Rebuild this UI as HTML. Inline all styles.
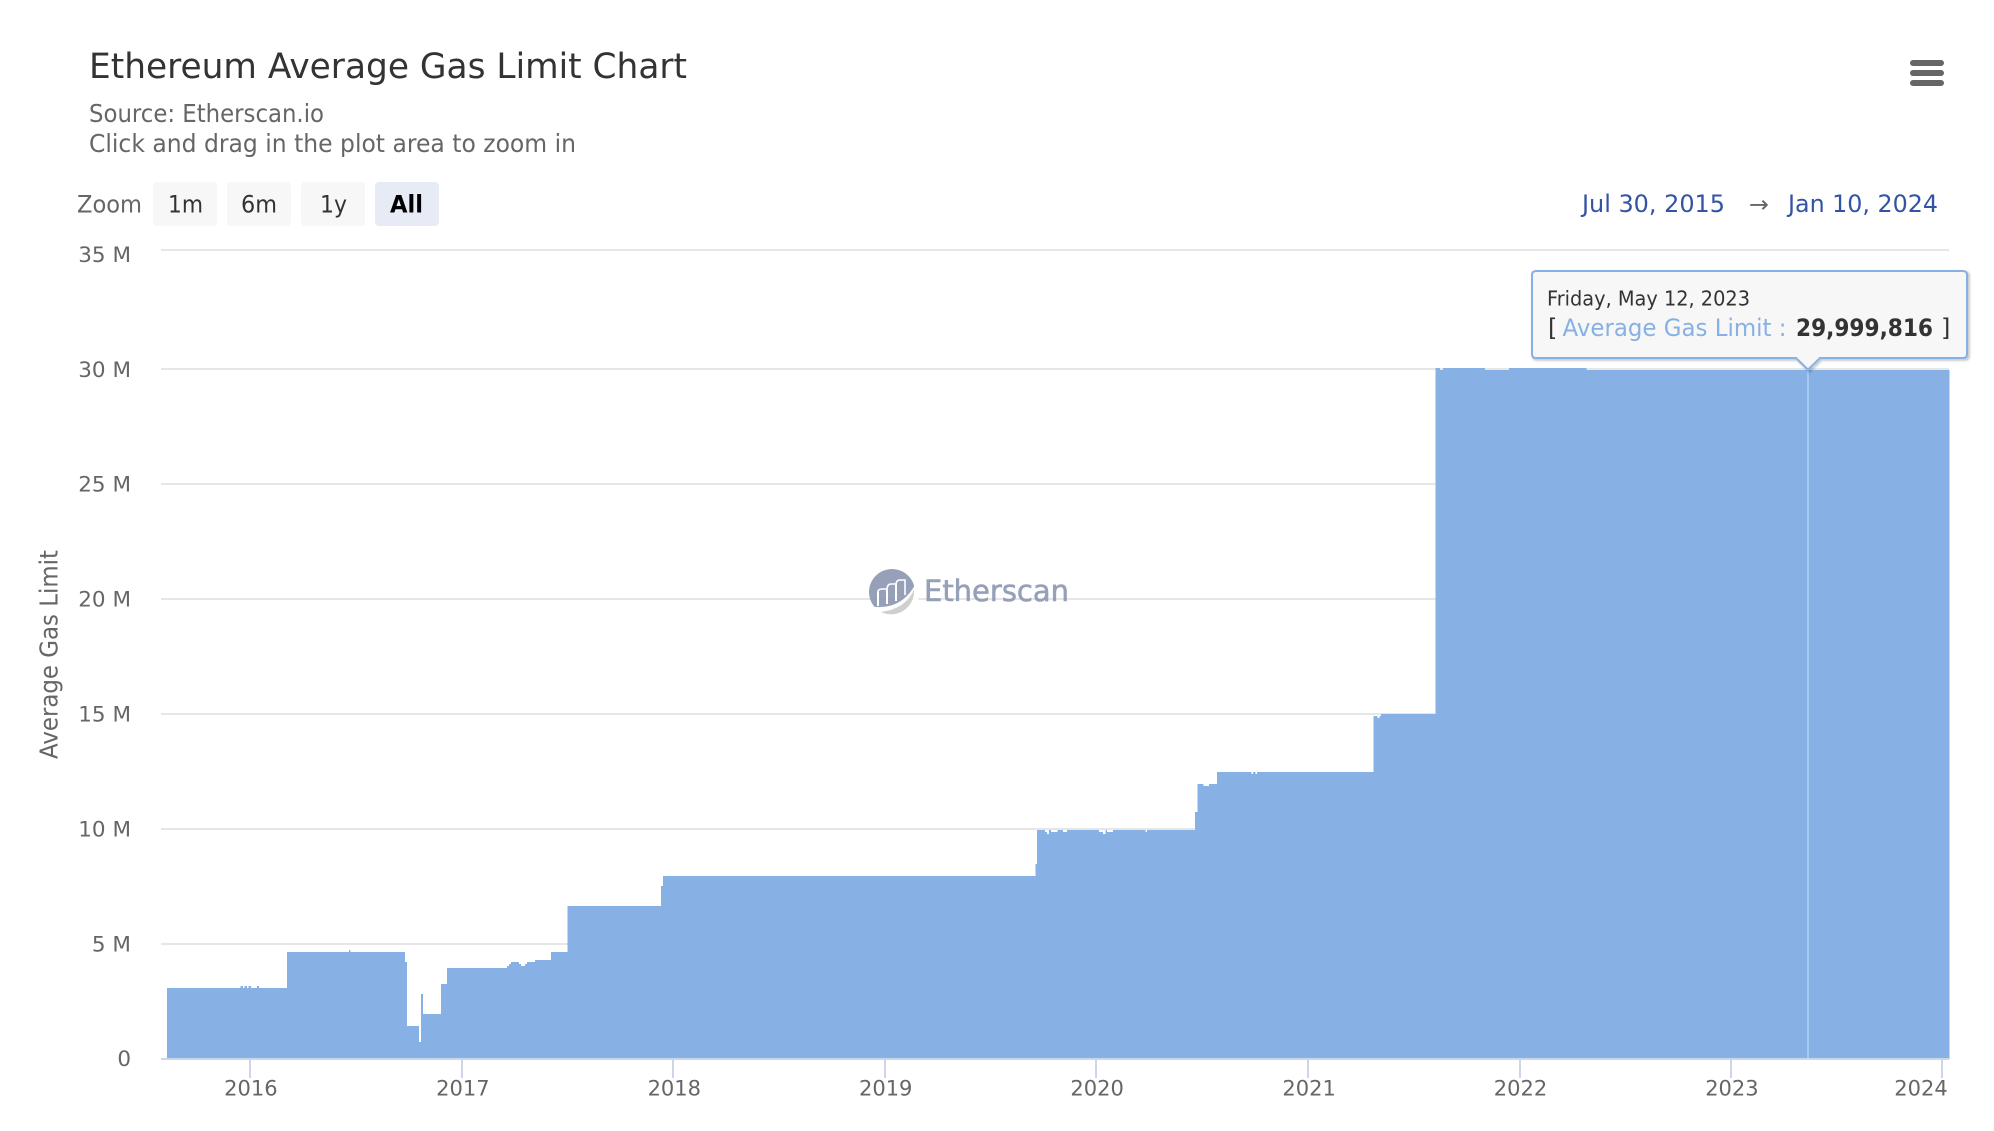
<!DOCTYPE html>
<html lang="en">
<head>
<meta charset="utf-8">
<title>Ethereum Average Gas Limit Chart</title>
<style>
html,body{margin:0;padding:0;background:#fff;width:1994px;height:1131px;overflow:hidden}
svg{display:block;font-family:"DejaVu Sans","Liberation Sans",sans-serif}
text{white-space:pre}
</style>
</head>
<body>
<svg id="chart" xmlns="http://www.w3.org/2000/svg" width="1994" height="1131" viewBox="0 0 1994 1131">
  <rect x="0" y="0" width="1994" height="1131" fill="#ffffff"/>
  <text x="89" y="78" font-size="35" fill="#333333" textLength="598" lengthAdjust="spacingAndGlyphs">Ethereum Average Gas Limit Chart</text>
  <text x="89" y="122" font-size="25" fill="#666666" textLength="235" lengthAdjust="spacingAndGlyphs">Source: Etherscan.io</text>
  <text x="89" y="152" font-size="25" fill="#666666" textLength="487" lengthAdjust="spacingAndGlyphs">Click and drag in the plot area to zoom in</text>

  <text x="77" y="212.5" font-size="24" fill="#666666" textLength="65" lengthAdjust="spacingAndGlyphs">Zoom</text>
  <g>
    <rect x="153" y="182" width="64" height="44" rx="4" fill="#f7f7f7"/>
    <text x="168" y="212.5" font-size="24" fill="#333333" textLength="35" lengthAdjust="spacingAndGlyphs">1m</text>
  </g>
  <g>
    <rect x="227" y="182" width="64" height="44" rx="4" fill="#f7f7f7"/>
    <text x="241" y="212.5" font-size="24" fill="#333333" textLength="36" lengthAdjust="spacingAndGlyphs">6m</text>
  </g>
  <g>
    <rect x="301" y="182" width="64" height="44" rx="4" fill="#f7f7f7"/>
    <text x="320" y="212.5" font-size="24" fill="#333333" textLength="27" lengthAdjust="spacingAndGlyphs">1y</text>
  </g>
  <g>
    <rect x="375" y="182" width="64" height="44" rx="4" fill="#e6ebf5"/>
    <text x="390" y="212.5" font-size="24" font-weight="bold" fill="#000000" textLength="33" lengthAdjust="spacingAndGlyphs">All</text>
  </g>

  <text x="1582" y="212" font-size="24" fill="#3353a4" textLength="143" lengthAdjust="spacingAndGlyphs">Jul 30, 2015</text>
  <text x="1749" y="212" font-size="23" fill="#666666" textLength="20" lengthAdjust="spacingAndGlyphs">→</text>
  <text x="1788" y="212" font-size="24" fill="#3353a4" textLength="150" lengthAdjust="spacingAndGlyphs">Jan 10, 2024</text>

  <g fill="#666666">
    <rect x="1910" y="60" width="34" height="6" rx="3"/>
    <rect x="1910" y="70" width="34" height="6" rx="3"/>
    <rect x="1910" y="80" width="34" height="6" rx="3"/>
  </g>

  <g id="grid"></g>

  <g opacity="0.92">
    <circle cx="892" cy="592" r="23" fill="#8e98b4"/>
    <path d="M 868 606 Q 900 612 915 585 L 925 625 L 865 625 Z" fill="#ffffff"/>
    <path d="M 881 612 Q 905 609 914 590 A 23 23 0 0 1 881 612 Z" fill="#cccccc"/>
    <path d="M 878 606 V 592 M 887 604 V 590 M 896 601 V 585" fill="none" stroke="#ffffff" stroke-width="2"/>
    <path d="M 878 592 Q 878 589 882 589 H 887 M 887 590 Q 887 584 891 584 H 896 M 896 585 Q 896 580 900 580 H 905 V 595" fill="none" stroke="#ffffff" stroke-width="1.6"/>
    <text x="924" y="601" font-size="29" fill="#8e98b4" stroke="#8e98b4" stroke-width="0.6" textLength="145" lengthAdjust="spacingAndGlyphs">Etherscan</text>
  </g>

  <g id="series"></g>
  <g id="xaxis"></g>
  <g id="ylabels"></g>
  <text transform="translate(57.5,759) rotate(-90)" x="0" y="0" font-size="25" fill="#666666" textLength="209" lengthAdjust="spacingAndGlyphs">Average Gas Limit</text>

  <g id="tooltip"></g>
  <text x="1547" y="305.5" font-size="20" fill="#333333" textLength="203" lengthAdjust="spacingAndGlyphs">Friday, May 12, 2023</text>
  <text x="1548" y="336" font-size="24" fill="#333333">[</text>
  <text x="1562.5" y="336" font-size="24" fill="#87b1e5" textLength="224" lengthAdjust="spacingAndGlyphs">Average Gas Limit :</text>
  <text id="tooltipValue" x="1796" y="336" font-size="24" font-weight="bold" fill="#333333" textLength="137" lengthAdjust="spacingAndGlyphs">29,999,816</text>
  <text x="1941" y="336" font-size="24" fill="#333333">]</text>
</svg>

<script>
// Days since 2016-01-01 at which each step of the series begins
const stepDays = [-143,-16,-12,-9,-5,-2,2,12,16,64,171,174,268,271,292,295,299,330,340,444,447,451,465,468,475,478,492,520,548,710,713,1356,1359,1373,1376,1380,1383,1394,1404,1411,1466,1473,1477,1480,1490,1546,1549,1632,1636,1646,1656,1670,1729,1732,1736,1739,1940,1947,1950,1953,2047,2055,2060,2132,2174,2308];
// Average gas limit (millions) for each step
const stepValues = [3.09,3.18,3.09,3.18,3.09,3.18,3.09,3.18,3.09,4.66,4.74,4.66,4.22,1.44,0.74,2.83,1.96,3.26,3.96,4.05,4.13,4.22,4.13,4.05,4.13,4.22,4.31,4.66,6.66,7.53,7.96,8.49,9.97,9.88,9.79,9.97,9.88,9.97,9.88,9.97,9.88,9.79,9.97,9.88,9.97,9.88,9.97,10.75,11.97,11.88,11.97,12.49,12.40,12.49,12.40,12.49,14.93,14.84,14.93,15.01,30.07,29.98,30.07,29.98,30.07,29.98];
const lastDay = 2934;
const xTickYears = [2016,2017,2018,2019,2020,2021,2022,2023,2024];
const xTickLabels = ['2016','2017','2018','2019','2020','2021','2022','2023','2024'];
const yTickValues = [0,5,10,15,20,25,30,35];
const yTickLabels = ['0','5 M','10 M','15 M','20 M','25 M','30 M','35 M'];
const hoverDay = 2690;
const hoverValue = 29.98;

const NS = 'http://www.w3.org/2000/svg';
function x(day){ return 249.9 + 0.5792 * day; }
function y(v){ return v <= 30 ? 1059 - 22.98 * v : 369.6 - 23.8 * (v - 30); }
function yearDay(year){ return Math.round((Date.UTC(year,0,1) - Date.UTC(2016,0,1)) / 86400000); }
function mk(tag, attrs, parent){
  const el = document.createElementNS(NS, tag);
  for (const k in attrs) el.setAttribute(k, attrs[k]);
  parent.appendChild(el);
  return el;
}

const PLOT_LEFT = 161, PLOT_RIGHT = 1949;
const gridG = document.getElementById('grid');
const ylabG = document.getElementById('ylabels');
yTickValues.forEach(function(v, i){
  const gy = Math.round(y(v) - 0.5);
  if (v !== 0) {
    const line = mk('rect', {x:PLOT_LEFT, y:gy - 1, width:PLOT_RIGHT - PLOT_LEFT, height:2, fill:'#e6e6e6'}, gridG);
    
    
  }
  const t = mk('text', {x:131, y:Math.max(y(v), 255) + 7.2, 'text-anchor':'end', 'font-size':21.5, fill:'#666666'}, ylabG);
  
  
  t.textContent = yTickLabels[i];
});

const seriesG = document.getElementById('series');
let d = '';
stepDays.forEach(function(day, i){
  const nextDay = i + 1 < stepDays.length ? stepDays[i + 1] : lastDay;
  const top = y(stepValues[i]);
  d += (i === 0 ? 'M' + x(day).toFixed(1) + ' 1059 ' : '') + 'L' + x(day).toFixed(1) + ' ' + top.toFixed(1) + ' L' + x(nextDay).toFixed(1) + ' ' + top.toFixed(1) + ' ';
});
d += 'L' + x(lastDay).toFixed(1) + ' 1059 Z';
const area = mk('path', {d:d, fill:'#87b1e5', 'shape-rendering':'crispEdges'}, seriesG);



const hoverX = x(hoverDay);
const hoverBar = mk('rect', {x:Math.round(hoverX) - 1, y:y(hoverValue), width:2, height:1059 - y(hoverValue), fill:'#a2c8f4'}, seriesG);



const xG = document.getElementById('xaxis');
const axisLine = mk('rect', {x:PLOT_LEFT, y:1058, width:PLOT_RIGHT - PLOT_LEFT, height:2, fill:'#ccd6eb'}, xG);


xTickYears.forEach(function(yr, i){
  const tx = x(yearDay(yr));
  const tick = mk('rect', {x:Math.round(tx) - 1, y:1060, width:2, height:18, fill:'#ccd6eb'}, xG);
  
  
  const lab = mk('text', {x:Math.min(tx + 1, 1921), y:1095.5, 'text-anchor':'middle', 'font-size':21, fill:'#666666'}, xG);
  
  
  lab.textContent = xTickLabels[i];
});

// Tooltip box with pointer anchored to the hovered point
const tipG = document.getElementById('tooltip');
const L = 1532, R = 1967, T = 271, B = 358, r = 4;
const px = Math.round(hoverX), py = y(hoverValue) - 0.5;
const boxPath = 'M' + (L + r) + ' ' + T + ' H' + (R - r) + ' Q' + R + ' ' + T + ' ' + R + ' ' + (T + r) +
  ' V' + (B - r) + ' Q' + R + ' ' + B + ' ' + (R - r) + ' ' + B +
  ' H' + (px + 12) + ' L' + px + ' ' + py + ' L' + (px - 12) + ' ' + B +
  ' H' + (L + r) + ' Q' + L + ' ' + B + ' ' + L + ' ' + (B - r) +
  ' V' + (T + r) + ' Q' + L + ' ' + T + ' ' + (L + r) + ' ' + T + ' Z';
[[6,0.03],[4,0.06],[2,0.1]].forEach(function(s){
  const sh = mk('path', {d:boxPath, transform:'translate(1.5,1.5)', fill:'none', stroke:'#000000', 'stroke-opacity':s[1], 'stroke-width':s[0]}, tipG);
  
  
});
const box = mk('path', {d:boxPath, fill:'#f7f7f7', stroke:'#87b1e5', 'stroke-width':2}, tipG);


</script>
</body>
</html>
